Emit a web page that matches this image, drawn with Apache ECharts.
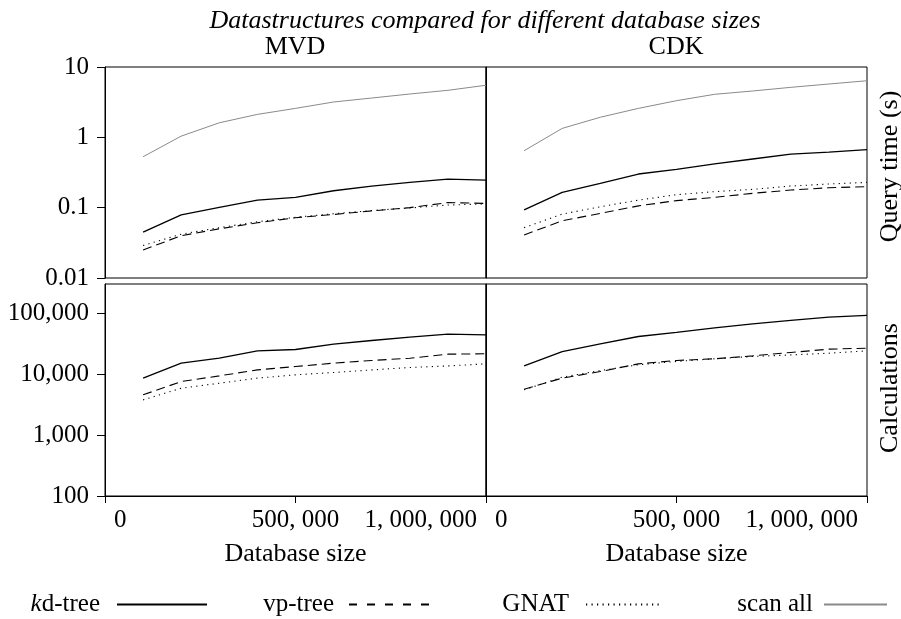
<!DOCTYPE html>
<html>
<head>
<meta charset="utf-8">
<script src="https://cdn.jsdelivr.net/npm/echarts@6/dist/echarts.min.js"></script>
<style>html,body{margin:0;padding:0;background:#fff}#c{width:901px;height:619px}</style>
</head>
<body>
<div id="c"></div>
<script>
const FONT = 'Liberation Serif';
const xs = [100000, 200000, 300000, 400000, 500000, 600000, 700000, 800000, 900000, 1000000];
const xTicks = [0, 500000, 1000000];
const xTickLabels = ['0', '500, 000', '1, 000, 000'];
const timeTicks = [0.01, 0.1, 1, 10];
const timeTickLabels = ['0.01', '0.1', '1', '10'];
const calcTicks = [100, 1000, 10000, 100000];
const calcTickLabels = ['100', '1,000', '10,000', '100,000'];
const seriesNames = ['kd-tree', 'vp-tree', 'GNAT', 'scan all'];
const panelTitles = ['MVD', 'CDK'];

// Query time (s)
const kdTimeMVD   = [0.045, 0.079, 0.101, 0.128, 0.140, 0.174, 0.203, 0.229, 0.255, 0.247];
const vpTimeMVD   = [0.025, 0.040, 0.050, 0.061, 0.072, 0.080, 0.090, 0.100, 0.118, 0.115];
const gnatTimeMVD = [0.029, 0.042, 0.052, 0.063, 0.073, 0.082, 0.091, 0.099, 0.109, 0.113];
const scanTimeMVD = [0.53, 1.04, 1.61, 2.12, 2.58, 3.18, 3.62, 4.13, 4.66, 5.5];
const kdTimeCDK   = [0.093, 0.165, 0.222, 0.301, 0.351, 0.418, 0.492, 0.579, 0.618, 0.667];
const vpTimeCDK   = [0.041, 0.065, 0.083, 0.106, 0.126, 0.140, 0.160, 0.178, 0.192, 0.199];
const gnatTimeCDK = [0.052, 0.081, 0.103, 0.128, 0.153, 0.169, 0.182, 0.203, 0.217, 0.229];
const scanTimeCDK = [0.645, 1.34, 1.93, 2.58, 3.32, 4.09, 4.56, 5.14, 5.73, 6.38];
// Calculations
const kdCalcMVD   = [8570, 15100, 18200, 24000, 25300, 31000, 35500, 40300, 45200, 44000];
const vpCalcMVD   = [4560, 7540, 9340, 11700, 13300, 15100, 16700, 18200, 21200, 21500];
const gnatCalcMVD = [3770, 5860, 7080, 8570, 9710, 10600, 11700, 12800, 13600, 14700];
const kdCalcCDK   = [13600, 23400, 31300, 41300, 48100, 57400, 66700, 75700, 85900, 91400];
const vpCalcCDK   = [5650, 8570, 11000, 14700, 16700, 17800, 19900, 22600, 25600, 26600];
const gnatCalcCDK = [5510, 8890, 11400, 14200, 16100, 17800, 19400, 20600, 22000, 24000];

const styles = {
  'kd-tree': { color: '#000', width: 1.3, type: 'solid' },
  'vp-tree': { color: '#000', width: 1.1, type: [9, 5] },
  'GNAT': { color: '#000', width: 1.1, type: [1.2, 4.3] },
  'scan all': { color: '#8a8a8a', width: 1, type: 'solid' }
};

function pairs(vals) { return xs.map((x, i) => [x, vals[i]]); }
function labelFor(ticks, labels) {
  return function (v) {
    for (let i = 0; i < ticks.length; i++) {
      if (Math.abs(ticks[i] - v) <= Math.abs(ticks[i]) * 1e-6) return labels[i];
    }
    return '';
  };
}
const txt = { fontFamily: FONT, fontSize: 25, color: '#000' };
const nameTxt = { fontFamily: FONT, fontSize: 26, color: '#000' };

const grids = [
  { left: 105, top: 67, width: 381, height: 211 },
  { left: 486, top: 67, width: 381, height: 211 },
  { left: 105, top: 284, width: 381, height: 212 },
  { left: 486, top: 284, width: 381, height: 212 }
].map(g => Object.assign({ show: true, borderColor: '#000', borderWidth: 1, containLabel: false, outerBoundsMode: 'none' }, g));

const xAxes = grids.map((g, i) => {
  const bottom = i >= 2;
  return {
    type: 'value', gridIndex: i, min: 0, max: 1000000, interval: 500000,
    show: bottom,
    splitLine: { show: false },
    axisLine: { show: true, lineStyle: { color: '#000', width: 1 } },
    axisTick: { show: bottom, inside: false, length: 7, lineStyle: { color: '#000' }, customValues: xTicks },
    axisLabel: {
      show: bottom, customValues: xTicks, formatter: labelFor(xTicks, xTickLabels),
      margin: 12, alignMinLabel: 'left', alignMaxLabel: 'right', padding: [0, 9, 0, 9], ...txt
    },
    name: bottom ? 'Database size' : '', nameLocation: 'middle', nameGap: 45,
    nameTextStyle: nameTxt
  };
});

const yAxes = grids.map((g, i) => {
  const isTime = i < 2;
  const left = i % 2 === 0;
  const ticks = isTime ? timeTicks : calcTicks;
  const labels = isTime ? timeTickLabels : calcTickLabels;
  return {
    type: 'log', gridIndex: i, logBase: 10,
    min: isTime ? 0.01 : 100, max: isTime ? 10 : 300000,
    position: left ? 'left' : 'right',
    splitLine: { show: false },
    axisLine: { show: true, lineStyle: { color: '#000', width: 1 } },
    axisTick: { show: left, length: 8, lineStyle: { color: '#000' }, customValues: ticks },
    axisLabel: { show: left, customValues: ticks, formatter: labelFor(ticks, labels), margin: 16, ...txt },
    minorTick: { show: false },
    name: left ? '' : (isTime ? 'Query time (s)' : 'Calculations'),
    nameLocation: 'middle', nameRotate: 90, nameGap: 10,
    nameTextStyle: Object.assign({}, nameTxt, { padding: isTime ? [0, 0, 0, 12] : [0, 0, 0, 4] })
  };
});

const panelData = [
  { kd: kdTimeMVD, vp: vpTimeMVD, gnat: gnatTimeMVD, scan: scanTimeMVD },
  { kd: kdTimeCDK, vp: vpTimeCDK, gnat: gnatTimeCDK, scan: scanTimeCDK },
  { kd: kdCalcMVD, vp: vpCalcMVD, gnat: gnatCalcMVD },
  { kd: kdCalcCDK, vp: vpCalcCDK, gnat: gnatCalcCDK }
];
const series = [];
panelData.forEach((p, i) => {
  const entries = [['scan all', p.scan], ['GNAT', p.gnat], ['vp-tree', p.vp], ['kd-tree', p.kd]];
  entries.forEach(([name, vals]) => {
    if (!vals) return;
    const s = styles[name];
    series.push({
      type: 'line', name, xAxisIndex: i, yAxisIndex: i, data: pairs(vals),
      symbol: 'none', showSymbol: false, animation: false, silent: true,
      lineStyle: { color: s.color, width: s.width, type: s.type }, itemStyle: { color: s.color }
    });
  });
});

// legend anchored at the right end of each sample line
const legendPos = [
  { name: 'kd-tree', right: 693, w: 90, gap: 12, dash: null },
  { name: 'vp-tree', right: 469, w: 82, gap: 10, dash: [8, 10] },
  { name: 'GNAT', right: 241, w: 73, gap: 12, dash: null },
  { name: 'scan all', right: 13, w: 63, gap: 6, dash: null }
];
const legends = legendPos.map(l => ({
  data: [l.name], right: l.right, top: 592, padding: 0, align: 'right',
  itemWidth: l.w, itemHeight: 24, selectedMode: false,
  itemStyle: { opacity: 0, borderWidth: 0 },
  lineStyle: l.dash ? { type: l.dash } : {},
  formatter: n => n === 'kd-tree' ? '{i|k}{n|d-tree}' : n,
  textStyle: Object.assign({}, txt, { padding: [0, l.gap, 0, 0], rich: {
    i: { fontFamily: FONT, fontSize: 25, fontStyle: 'italic', color: '#000' },
    n: { fontFamily: FONT, fontSize: 25, color: '#000' } } })
}));

const chart = echarts.init(document.getElementById('c'), null, { renderer: 'canvas' });
chart.setOption({
  backgroundColor: '#fff',
  animation: false,
  title: [
    { text: 'Datastructures compared for different database sizes', left: 485, top: 8, padding: 0, textAlign: 'center',
      textStyle: Object.assign({}, nameTxt, { fontStyle: 'italic', fontWeight: 'normal' }) },
    { text: panelTitles[0], left: 295, top: 34, padding: 0, textAlign: 'center', textStyle: Object.assign({}, nameTxt, { fontWeight: 'normal' }) },
    { text: panelTitles[1], left: 676, top: 34, padding: 0, textAlign: 'center', textStyle: Object.assign({}, nameTxt, { fontWeight: 'normal' }) }
  ],
  legend: legends,
  grid: grids,
  xAxis: xAxes,
  yAxis: yAxes,
  series
});
</script>
</body>
</html>
